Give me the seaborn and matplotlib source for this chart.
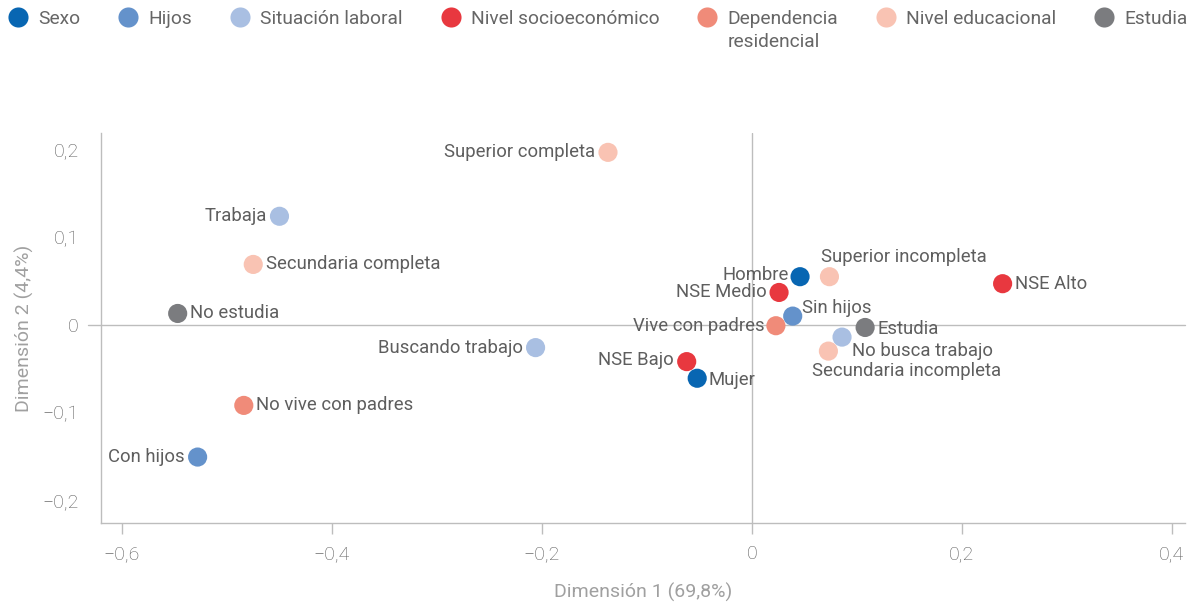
import pandas as pd
import seaborn as sns
import matplotlib.pyplot as plt

# Categories, groups and coordinates
labels = ["Hombre", "Mujer",
          "Con hijos", "Sin hijos",
          "Trabaja", "Buscando trabajo", "No busca trabajo",
          "NSE Alto", "NSE Medio", "NSE Bajo",
          "Vive con padres", "No vive con padres",
          "Superior completa", "Superior incompleta", "Secundaria completa", "Secundaria incompleta",
          "Estudia", "No estudia"]
groups = ["Sexo", "Sexo",
          "Hijos", "Hijos",
          "Situación laboral", "Situación laboral", "Situación laboral",
          "Nivel socioeconómico", "Nivel socioeconómico", "Nivel socioeconómico",
          "Dependencia residencial", "Dependencia residencial",
          "Nivel educacional", "Nivel educacional", "Nivel educacional", "Nivel educacional",
          "Estudia", "Estudia"]
dim1 = [0.046, -0.052,
        -0.528, 0.039,
        -0.450, -0.206, 0.086,
        0.239, 0.026, -0.062,
        0.023, -0.484,
        -0.137, 0.074, -0.475, 0.073,
        0.108, -0.547]
dim2 = [0.055, -0.061,
        -0.151, 0.010,
        0.124, -0.026, -0.014,
        0.047, 0.037, -0.042,
        -0.001, -0.092,
        0.197, 0.055, 0.069, -0.030,
        -0.003, 0.013]

group_order = ["Sexo", "Hijos", "Situación laboral", "Nivel socioeconómico",
               "Dependencia residencial", "Nivel educacional", "Estudia"]
legend_names = ["Sexo", "Hijos", "Situación laboral", "Nivel socioeconómico",
                "Dependencia", "Nivel educacional", "Estudia"]
xticks = [-0.6, -0.4, -0.2, 0, 0.2, 0.4]
xticklabels = ["\u22120,6", "\u22120,4", "\u22120,2", "0", "0,2", "0,4"]
yticks = [-0.2, -0.1, 0, 0.1, 0.2]
yticklabels = ["\u22120,2", "\u22120,1", "0", "0,1", "0,2"]

colors = ["#0866b2", "#6492cb", "#a9bfe2", "#e8383f", "#f08b79", "#f9c3b3", "#7b7c7f"]
palette = dict(zip(group_order, colors))

df = pd.DataFrame({"label": labels, "grupo": groups, "d1": dim1, "d2": dim2})

sns.set_style("white")
plt.rcParams["font.family"] = ["Roboto", "DejaVu Sans"]
plt.rcParams["font.weight"] = "light"

fig = plt.figure(figsize=(11.96, 6.05), dpi=100)
ax = fig.add_axes([0.0845, 0.136, 0.9065, 0.644])

ax.axhline(0, xmin=-0.012, xmax=1, color="#bdbdbd", lw=1, clip_on=False, zorder=1)
ax.axvline(0, color="#bdbdbd", lw=1, zorder=1)

sns.scatterplot(data=df, x="d1", y="d2", hue="grupo", hue_order=group_order,
                palette=palette, s=190, linewidth=0, ax=ax, zorder=3, legend=True)

# label offsets in points (dx, dy, ha)
offsets = {
    "Superior completa": (-9, 0, "right"),
    "Trabaja": (-9, 0, "right"),
    "Secundaria completa": (9, 0, "left"),
    "No estudia": (9, 0, "left"),
    "Buscando trabajo": (-9, 0, "right"),
    "No vive con padres": (9, 0, "left"),
    "Con hijos": (-9, 0, "right"),
    "Hombre": (-8, 1, "right"),
    "Superior incompleta": (-6, 14, "left"),
    "NSE Medio": (-9, 0, "right"),
    "NSE Alto": (9, 0, "left"),
    "Sin hijos": (7, 6, "left"),
    "Vive con padres": (-8, 0, "right"),
    "Estudia": (9, -1, "left"),
    "No busca trabajo": (7, -10, "left"),
    "Secundaria incompleta": (-12, -14, "left"),
    "NSE Bajo": (-9, 1, "right"),
    "Mujer": (8, -1, "left"),
}
for _, r in df.iterrows():
    dx, dy, ha = offsets[r["label"]]
    ax.annotate(r["label"], (r["d1"], r["d2"]), xytext=(dx, dy), textcoords="offset points",
                ha=ha, va="center", fontsize=13.3, fontweight="normal", color="#5e5e5e", zorder=4)

ax.set_xlim(-0.62, 0.413)
ax.set_ylim(-0.226, 0.219)
ax.set_xticks(xticks)
ax.set_xticklabels(xticklabels)
ax.set_yticks(yticks)
ax.set_yticklabels(yticklabels)
ax.tick_params(axis="x", length=8, width=1, color="#bdbdbd", pad=8, labelsize=14, labelcolor="#5a5a5a")
ax.tick_params(axis="y", length=0, pad=16, labelsize=14, labelcolor="#5a5a5a")
ax.xaxis.set_ticks_position("bottom")

for side in ["top", "right"]:
    ax.spines[side].set_visible(False)
for side in ["left", "bottom"]:
    ax.spines[side].set_color("#bdbdbd")
    ax.spines[side].set_linewidth(1)

ax.set_xlabel("Dimensión 1 (69,8%)", fontsize=14, color="#a0a0a0", labelpad=14)
ax.set_ylabel("Dimensión 2 (4,4%)", fontsize=14, color="#a0a0a0", labelpad=6)

handles, _ = ax.get_legend_handles_labels()
ax.get_legend().remove()
leg = fig.legend(handles, legend_names, loc="upper left", bbox_to_anchor=(-0.004, 0.99, 1.0, 0),
                 mode="expand", ncol=7, frameon=False, handletextpad=0.05,
                 prop={"size": 13.8, "weight": "normal"},
                 markerscale=1.05, borderaxespad=0, borderpad=0.2, columnspacing=1.0)
for t in leg.get_texts():
    t.set_color("#666666")

# second line of the "Dependencia residencial" entry, placed under the first one
fig.canvas.draw()
bb = leg.get_texts()[4].get_window_extent()
W, H = fig.bbox.width, fig.bbox.height
fig.text(bb.x0 / W, (bb.y0 - 5) / H, "residencial", ha="left", va="top",
         fontsize=13.8, fontweight="normal", color="#666666")

plt.savefig("out.png", dpi=100)
